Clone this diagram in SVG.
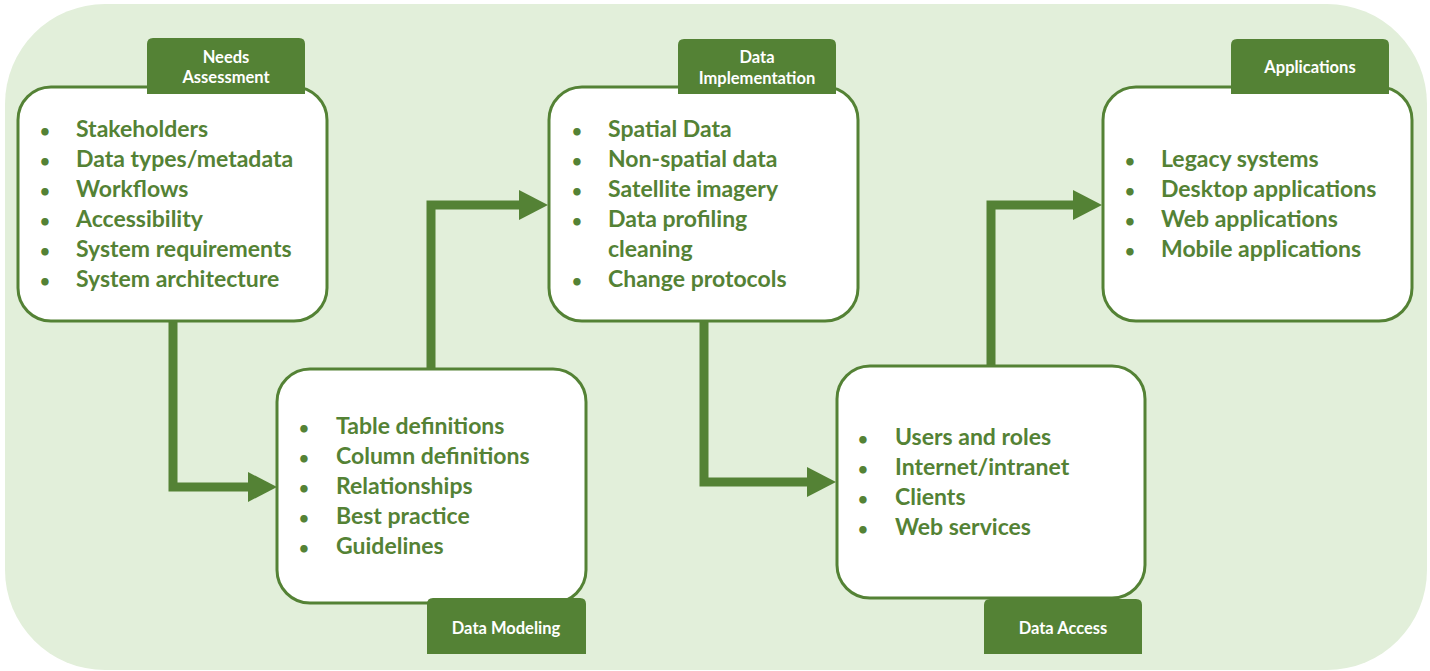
<svg xmlns="http://www.w3.org/2000/svg" width="1430" height="671" viewBox="0 0 1430 671">
<defs>
<style>
.bg{fill:#E2EFDA}
.box{fill:#FFFFFF;stroke:#548235;stroke-width:3}
.tab{fill:#548235}
.tt{fill:#FFFFFF;font-family:Lato,"Liberation Sans",sans-serif;font-weight:bold;font-size:16.5px;text-anchor:middle}
.it{fill:#548235;font-family:Lato,"Liberation Sans",sans-serif;font-weight:bold;font-size:23px}
.bu{fill:#548235;font-family:Lato,"Liberation Sans",sans-serif;font-weight:bold;font-size:17px;text-anchor:middle}
.con{fill:none;stroke:#548235;stroke-width:9;stroke-linejoin:miter}
</style>
<marker id="ah" markerUnits="userSpaceOnUse" markerWidth="30" markerHeight="31" refX="1" refY="15" orient="auto">
<path d="M0,0 L29,15 L0,30 Z" fill="#548235"/>
</marker>
</defs>
<rect class="bg" x="5" y="4" width="1422" height="666" rx="100" ry="100"/>
<g id="connectors">
<path class="con" d="M173,322 V487 H249" marker-end="url(#ah)"/>
<path class="con" d="M431,368 V205 H520" marker-end="url(#ah)"/>
<path class="con" d="M704,322 V482 H808" marker-end="url(#ah)"/>
<path class="con" d="M991,365 V205 H1074" marker-end="url(#ah)"/>
</g>
<g id="needs-assessment">
<rect class="box" x="18" y="87" width="309" height="234" rx="33"/>
<path class="tab" d="M147,94 V44 Q147,38 153,38 H299 Q305,38 305,44 V94 Z"/>
<text class="tt" x="226" y="63">Needs</text>
<text class="tt" x="226" y="83">Assessment</text>
<text class="bu" x="45" y="137">•</text><text class="it" x="76" y="137">Stakeholders</text>
<text class="bu" x="45" y="167">•</text><text class="it" x="76" y="167">Data types/metadata</text>
<text class="bu" x="45" y="197">•</text><text class="it" x="76" y="197">Workflows</text>
<text class="bu" x="45" y="227">•</text><text class="it" x="76" y="227">Accessibility</text>
<text class="bu" x="45" y="257">•</text><text class="it" x="76" y="257">System requirements</text>
<text class="bu" x="45" y="287">•</text><text class="it" x="76" y="287">System architecture</text>
</g>
<g id="data-modeling">
<rect class="box" x="277" y="369" width="309" height="234" rx="33"/>
<path class="tab" d="M427,654 V604 Q427,598 433,598 H580 Q586,598 586,604 V654 Z"/>
<text class="tt" x="506" y="634">Data Modeling</text>
<text class="bu" x="304" y="434">•</text><text class="it" x="336" y="434">Table definitions</text>
<text class="bu" x="304" y="464">•</text><text class="it" x="336" y="464">Column definitions</text>
<text class="bu" x="304" y="494">•</text><text class="it" x="336" y="494">Relationships</text>
<text class="bu" x="304" y="524">•</text><text class="it" x="336" y="524">Best practice</text>
<text class="bu" x="304" y="554">•</text><text class="it" x="336" y="554">Guidelines</text>
</g>
<g id="data-implementation">
<rect class="box" x="549" y="87" width="309" height="234" rx="33"/>
<path class="tab" d="M678,94 V45 Q678,39 684,39 H830 Q836,39 836,45 V94 Z"/>
<text class="tt" x="757" y="63">Data</text>
<text class="tt" x="757" y="84">Implementation</text>
<text class="bu" x="577" y="137">•</text><text class="it" x="608" y="137">Spatial Data</text>
<text class="bu" x="577" y="167">•</text><text class="it" x="608" y="167">Non-spatial data</text>
<text class="bu" x="577" y="197">•</text><text class="it" x="608" y="197">Satellite imagery</text>
<text class="bu" x="577" y="227">•</text><text class="it" x="608" y="227">Data profiling</text>
<text class="it" x="608" y="257">cleaning</text>
<text class="bu" x="577" y="287">•</text><text class="it" x="608" y="287">Change protocols</text>
</g>
<g id="data-access">
<rect class="box" x="837" y="366" width="308" height="232" rx="33"/>
<path class="tab" d="M984,654 V605 Q984,599 990,599 H1136 Q1142,599 1142,605 V654 Z"/>
<text class="tt" x="1063" y="634">Data Access</text>
<text class="bu" x="863" y="445">•</text><text class="it" x="895" y="445">Users and roles</text>
<text class="bu" x="863" y="475">•</text><text class="it" x="895" y="475">Internet/intranet</text>
<text class="bu" x="863" y="505">•</text><text class="it" x="895" y="505">Clients</text>
<text class="bu" x="863" y="535">•</text><text class="it" x="895" y="535">Web services</text>
</g>
<g id="applications">
<rect class="box" x="1103" y="87" width="309" height="234" rx="33"/>
<path class="tab" d="M1231,94 V45 Q1231,39 1237,39 H1383 Q1389,39 1389,45 V94 Z"/>
<text class="tt" x="1310" y="73">Applications</text>
<text class="bu" x="1130" y="167">•</text><text class="it" x="1161" y="167">Legacy systems</text>
<text class="bu" x="1130" y="197">•</text><text class="it" x="1161" y="197">Desktop applications</text>
<text class="bu" x="1130" y="227">•</text><text class="it" x="1161" y="227">Web applications</text>
<text class="bu" x="1130" y="257">•</text><text class="it" x="1161" y="257">Mobile applications</text>
</g>
</svg>
